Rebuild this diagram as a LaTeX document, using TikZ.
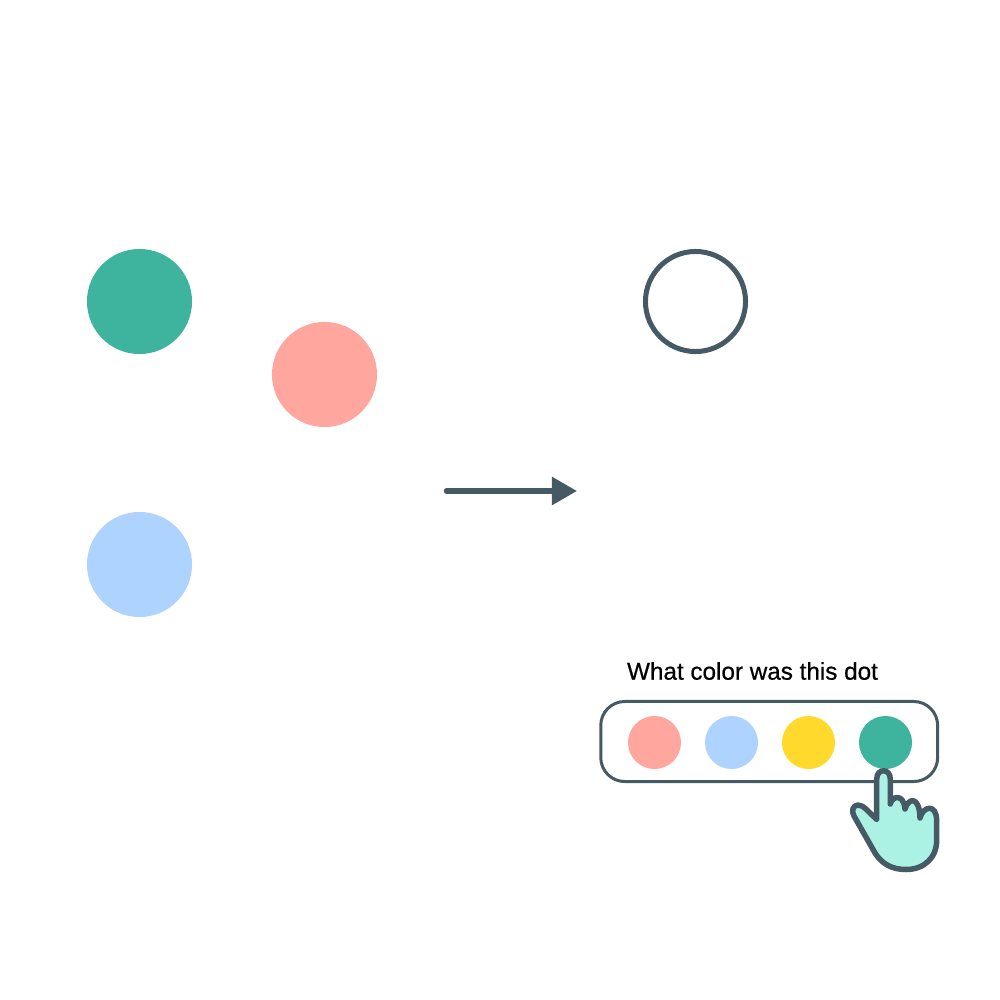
\documentclass[tikz,border=0pt]{standalone}
\usepackage{fontspec}
\setmainfont[FakeBold=0.6]{Liberation Sans}
\usetikzlibrary{arrows.meta}
\definecolor{dotGreen}{HTML}{3EB49F}
\definecolor{dotPink}{HTML}{FFA69E}
\definecolor{dotBlue}{HTML}{AFD3FF}
\definecolor{dotYellow}{HTML}{FFD92B}
\definecolor{slate}{HTML}{455A64}
\definecolor{handFill}{HTML}{ABF2E4}
\begin{document}
\begin{tikzpicture}[x=0.01cm,y=-0.01cm]
		\tikzset{bigdot/.style = {shape=circle, inner sep=0pt, minimum size=1.05cm}}
		\tikzset{smalldot/.style = {shape=circle, inner sep=0pt, minimum size=0.53cm}}
		\tikzset{edge/.style = {draw=slate, line width=0.055cm, line cap=round, -{Triangle[length=0.25cm,width=0.27cm]}}}

		\useasboundingbox (0,0) rectangle (1000,1000);

		\node[bigdot, fill=dotGreen] (green) at (139.5,301.5) {};
		\node[bigdot, fill=dotPink] (pink) at (324.5,374.5) {};
		\node[bigdot, fill=dotBlue] (blue) at (139.5,564.5) {};
		\node[shape=circle, draw=slate, line width=0.05cm, inner sep=0pt, minimum size=1cm] (empty) at (695.5,301.5) {};

		\coordinate (start) at (446.5,491);
		\coordinate (end) at (577,491);
		\draw[edge] (start) to (end);

		\node[font=\fontsize{6.9pt}{8pt}\selectfont] (question) at (752.5,671) {What color was this dot};
		\node[shape=rectangle, draw=slate, line width=0.03cm, rounded corners=0.24cm, inner sep=0pt, minimum width=3.367cm, minimum height=0.8cm] (palette) at (769.2,741.5) {};

		\node[smalldot, fill=dotPink] (c1) at (654.5,742.5) {};
		\node[smalldot, fill=dotBlue] (c2) at (731.5,742.5) {};
		\node[smalldot, fill=dotYellow] (c3) at (808.5,742.5) {};
		\node[smalldot, fill=dotGreen] (c4) at (885.5,742.5) {};

		% hand
		\draw[draw=slate, fill=handFill, line width=0.055cm, line join=round]
			(876.7,779) .. controls (876.7,768) and (890.3,768) .. (890.3,779)
			-- (890.3,804)
			.. controls (892,796) and (903.5,793) .. (905,809)
			.. controls (908,798) and (919.5,795) .. (920,818)
			.. controls (923,806) and (936.7,803) .. (936.7,821)
			-- (936.7,840)
			.. controls (936.7,858) and (924,869.5) .. (906,869.5)
			.. controls (892,869.5) and (882,864) .. (875,853)
			-- (854,816)
			.. controls (851,811) and (853,805) .. (858,805)
			.. controls (861,805) and (864,807) .. (866,809)
			-- (876.7,819.5) -- cycle;
	\end{tikzpicture}
\end{document}
